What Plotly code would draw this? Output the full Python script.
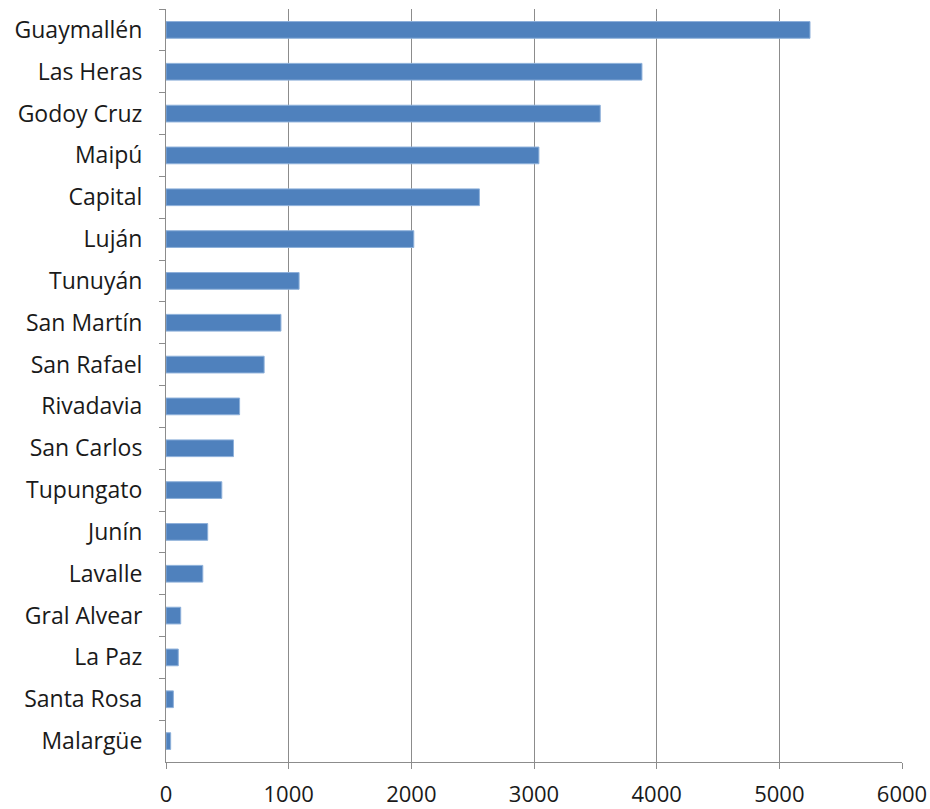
import plotly.graph_objects as go

departments = ["Guaymallén", "Las Heras", "Godoy Cruz", "Maipú", "Capital", "Luján",
               "Tunuyán", "San Martín", "San Rafael", "Rivadavia", "San Carlos",
               "Tupungato", "Junín", "Lavalle", "Gral Alvear", "La Paz", "Santa Rosa",
               "Malargüe"]
values = [5250, 3880, 3540, 3040, 2555, 2020,
          1085, 937, 800, 600, 550,
          455, 340, 300, 120, 100, 60,
          38]
x_ticks = [0, 1000, 2000, 3000, 4000, 5000, 6000]

fig = go.Figure(go.Bar(
    x=values, y=departments, orientation="h",
    marker=dict(color="#4F81BD", line=dict(color="#8DB0DA", width=1)),
))

font_family = "Open Sans, DejaVu Sans, sans-serif"
fig.update_layout(
    width=930, height=809,
    margin=dict(l=166, r=28, t=9, b=47, autoexpand=False),
    paper_bgcolor="white", plot_bgcolor="white",
    bargap=0.6, showlegend=False,
    font=dict(family=font_family, size=23, color="#1a1a1a"),
)
fig.update_xaxes(
    range=[0, 6000], tickvals=x_ticks, ticktext=[str(v) for v in x_ticks],
    showgrid=True, gridcolor="#8c8c8c", gridwidth=1,
    showline=True, linecolor="#8c8c8c", linewidth=1,
    ticks="outside", ticklen=6, tickcolor="#8c8c8c",
    ticklabelstandoff=7, zeroline=False, automargin=False,
    tickfont=dict(size=22),
)
fig.update_yaxes(
    autorange="reversed", categoryorder="array", categoryarray=departments,
    showline=True, linecolor="#8c8c8c", linewidth=1,
    ticks="outside", ticklen=6, tickcolor="#8c8c8c", tickson="boundaries",
    ticklabelstandoff=18, showgrid=False, automargin=False,
)
fig.write_html(
    "out.html",
    config={"displayModeBar": False},
    post_script="document.body.style.margin='0';document.body.style.overflow='hidden';",
)
